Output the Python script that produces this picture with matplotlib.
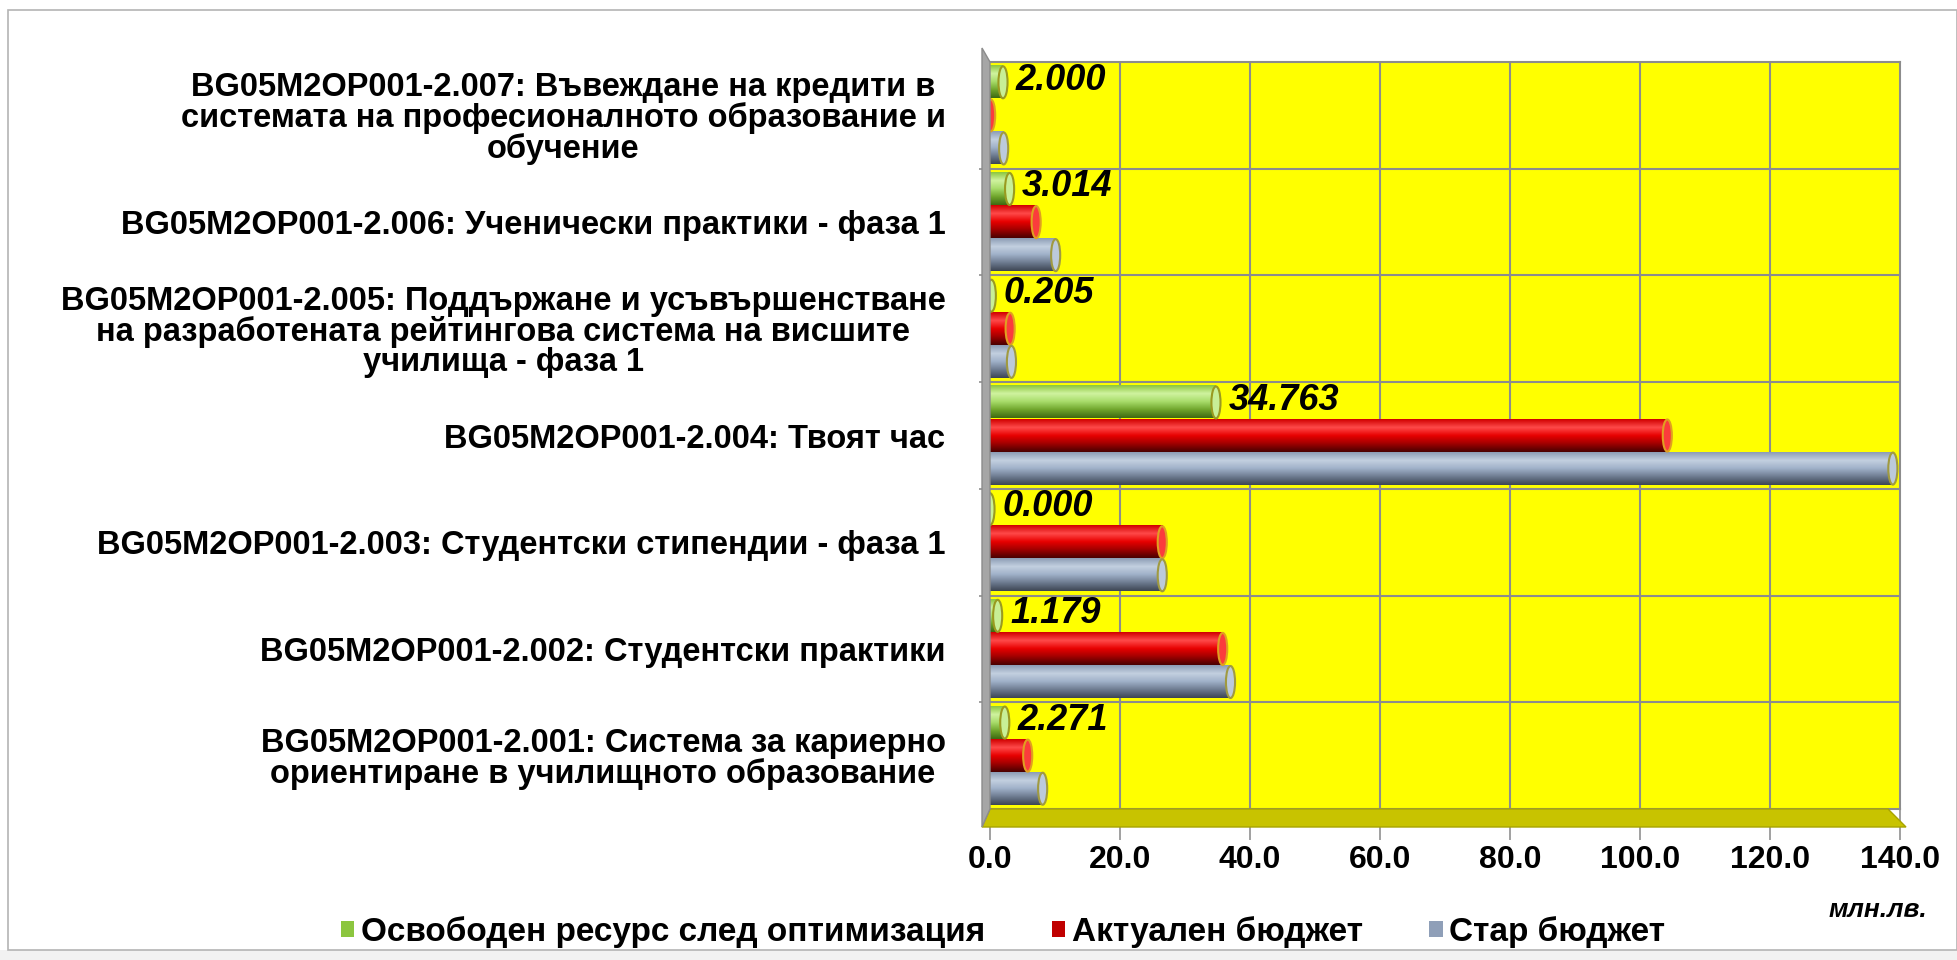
import matplotlib
matplotlib.use('Agg')
import matplotlib.pyplot as plt
import numpy as np
from matplotlib.colors import LinearSegmentedColormap
from matplotlib.patches import Ellipse, Polygon, Rectangle, Patch

plt.rcParams['font.family'] = ['Liberation Sans', 'DejaVu Sans']

# данни (млн. лв.), отдолу нагоре
categories = [
    'BG05M2OP001-2.001: Система за кариерно\nориентиране в училищното образование',
    'BG05M2OP001-2.002: Студентски практики',
    'BG05M2OP001-2.003: Студентски стипендии - фаза 1',
    'BG05M2OP001-2.004: Твоят час',
    'BG05M2OP001-2.005: Поддържане и усъвършенстване\nна разработената рейтингова система на висшите\nучилища - фаза 1',
    'BG05M2OP001-2.006: Ученически практики - фаза 1',
    'BG05M2OP001-2.007: Въвеждане на кредити в\nсистемата на професионалното образование и\nобучение',
]
freed = [2.271, 1.179, 0.000, 34.763, 0.205, 3.014, 2.000]
actual = [5.8, 35.8, 26.5, 104.2, 3.1, 7.1, 0.1]
old = [8.1, 37.0, 26.5, 138.9, 3.3, 10.1, 2.1]
series_names = ['Освободен ресурс след оптимизация', 'Актуален бюджет', 'Стар бюджет']
xticks = [0, 20, 40, 60, 80, 100, 120, 140]

W, H = 1957, 960


def px(x, y):
    """пиксели -> дял от фигурата"""
    return (x / W, 1 - y / H)


# градиенти за "цилиндрите" (отдолу нагоре)
green_cm = LinearSegmentedColormap.from_list('g', ['#3f6a12', '#6fa52c', '#a8dc6a', '#d0f3a0', '#8cc63f'])
red_cm = LinearSegmentedColormap.from_list('r', ['#4a0000', '#a00000', '#e80000', '#ff4a4a', '#d00000'])
gray_cm = LinearSegmentedColormap.from_list('b', ['#3e4654', '#6d7b90', '#9fb0c8', '#c3d0e0', '#8d9db5'])

fig = plt.figure(figsize=(W / 100, H / 100), dpi=100)
fig.patch.set_facecolor('white')

left, right = 990, 1900
top, bottom = 62, 809
ax = fig.add_axes([left / W, 1 - bottom / H, (right - left) / W, (bottom - top) / H])
ax.set_facecolor('#ffff00')

grad = np.linspace(0, 1, 64).reshape(-1, 1)
h = 0.3
series = [(freed, 0.31, green_cm, '#9a9a20'), (actual, 0.0, red_cm, '#e0a020'), (old, -0.31, gray_cm, '#a09a40')]
y = np.arange(len(categories))

for vals, off, cm, cap in series:
    for yi, v in zip(y, vals):
        y0 = yi + off - h / 2
        ax.imshow(grad, extent=[0, v, y0, y0 + h], origin='lower', aspect='auto',
                  cmap=cm, zorder=3, interpolation='bilinear')
        ax.add_patch(Ellipse((v, yi + off), 1.4, h, facecolor=cm(0.7), edgecolor=cap,
                             lw=1.5, zorder=4))

for yi, v in zip(y, freed):
    ax.text(v + 1.9, yi + 0.33, f'{v:.3f}', ha='left', va='center', fontsize=26,
            fontweight='bold', fontstyle='italic', zorder=5)

ax.set_xlim(0, 140)
ax.set_ylim(-0.5, len(categories) - 0.5)

ax.set_xticks(xticks)
ax.set_xticklabels([f'{t:.1f}' for t in xticks], fontsize=23, fontweight='bold')
ax.set_yticks(y)
ax.set_yticklabels(categories, fontsize=23.5, fontweight='bold', multialignment='center')
for lab in ax.get_yticklabels():
    lab.set_linespacing(0.97)
ax.set_yticks(y[:-1] + 0.5, minor=True)
ax.tick_params(axis='y', which='major', length=0, pad=32)
ax.tick_params(axis='y', which='minor', length=8, color='#909090', width=1.2)
ax.tick_params(axis='x', length=22, color='#909090', width=1.2, pad=4)

for t in xticks[1:-1]:
    ax.axvline(t, color='#8c8c8c', lw=1.5, zorder=1)
for b in y[:-1] + 0.5:
    ax.axhline(b, color='#8c8c8c', lw=1.5, zorder=1)
for s in ax.spines.values():
    s.set_color('#8c8c8c')
    s.set_linewidth(1.5)
ax.spines['left'].set_visible(False)

# под и стена (3D ефект)
floor = Polygon([px(990, 809), px(1888, 809), px(1906, 827), px(982, 827)], closed=True,
                transform=fig.transFigure, facecolor='#c8c300', edgecolor='#a8a400', lw=1, zorder=2)
wall = Polygon([px(982, 48), px(990, 62), px(990, 809), px(982, 827)], closed=True,
               transform=fig.transFigure, facecolor='#a6a6a6', edgecolor='#8c8c8c', lw=1, zorder=2)
fig.patches.extend([floor, wall])

# рамка и долна ивица
fig.patches.append(Rectangle(px(0, 960), 1, 10 / H, transform=fig.transFigure,
                             facecolor='#f2f2f2', edgecolor='none', zorder=0))
fig.patches.append(Rectangle(px(8, 950), (W - 8) / W, 940 / H, transform=fig.transFigure,
                             facecolor='none', edgecolor='#b4b4b4', lw=1.2, zorder=1))

handles = [Patch(facecolor='#8cc63f'), Patch(facecolor='#c00000'), Patch(facecolor='#8f9fb8')]
fig.legend(handles, series_names, loc='center', bbox_to_anchor=px(1003, 932), ncol=3,
           frameon=False, handlelength=0.4, handleheight=0.4, handletextpad=0.2,
           columnspacing=2.0, prop={'size': 24, 'weight': 'bold'})

fig.text(*px(1927, 910), 'млн.лв.', ha='right', va='center', fontsize=19,
         fontweight='bold', fontstyle='italic')

fig.savefig('out.png', dpi=100)
